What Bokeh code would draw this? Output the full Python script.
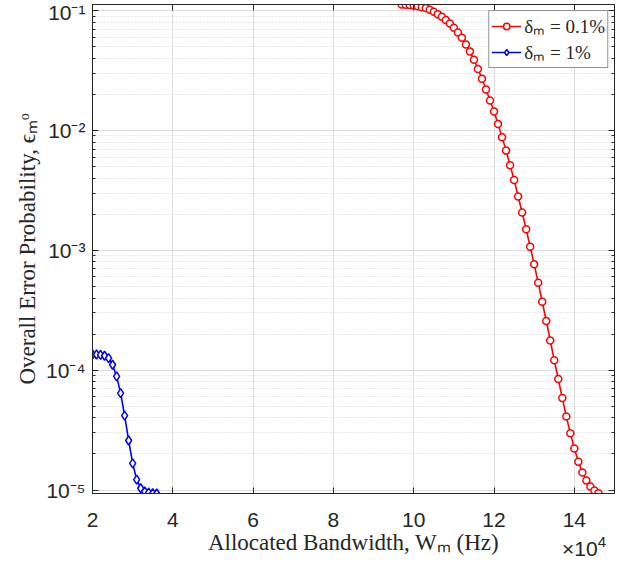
from bokeh.plotting import figure
from bokeh.layouts import column
from bokeh.models import (LogAxis, LinearAxis, FixedTicker, CustomJSTickFormatter,
                          CustomLabelingPolicy, Div, Legend, LegendItem, Range1d)
from bokeh.embed import file_html
from bokeh.resources import INLINE

# Allocated bandwidth in units of 10^4 Hz
red_bw = [9.7, 9.8, 9.9, 10.0, 10.1, 10.2, 10.3, 10.4, 10.5, 10.6,
          10.7, 10.8, 10.9, 11.0, 11.1, 11.2, 11.3, 11.4, 11.5, 11.6,
          11.7, 11.8, 11.9, 12.0, 12.1, 12.2, 12.3, 12.4, 12.5, 12.6,
          12.7, 12.8, 12.9, 13.0, 13.1, 13.2, 13.3, 13.4, 13.5, 13.6,
          13.7, 13.8, 13.9, 14.0, 14.1, 14.2, 14.3, 14.4, 14.5, 14.6]
red_err = [0.1125, 0.1119, 0.1112, 0.1104, 0.1090, 0.1069, 0.1050, 0.1016, 0.0977, 0.0935,
           0.0889, 0.0834, 0.0782, 0.0719, 0.0658, 0.0594, 0.0522, 0.0457, 0.0389, 0.0326,
           0.0270, 0.0220, 0.0178, 0.0144, 0.0113, 0.00877, 0.00679, 0.00513, 0.00387, 0.00281,
           0.00207, 0.00150, 0.00107, 7.64e-4, 5.37e-4, 3.72e-4, 2.57e-4, 1.77e-4, 1.21e-4, 8.43e-5,
           5.85e-5, 4.10e-5, 2.98e-5, 2.22e-5, 1.72e-5, 1.40e-5, 1.20e-5, 1.07e-5, 9.9e-6, 9.4e-6]

blue_bw = [2.0, 2.1, 2.2, 2.3, 2.4, 2.5, 2.6, 2.7, 2.8, 2.9, 3.0, 3.1, 3.2, 3.3, 3.4, 3.5, 3.6]
blue_err = [1.35e-4, 1.35e-4, 1.34e-4, 1.32e-4, 1.26e-4, 1.11e-4, 8.87e-5, 6.44e-5, 4.18e-5,
            2.59e-5, 1.67e-5, 1.22e-5, 1.035e-5, 9.72e-6, 9.5e-6, 9.4e-6, 9.35e-6]

x_ticks = [2, 4, 6, 8, 10, 12, 14]
y_ticks = [1e-5, 1e-4, 1e-3, 1e-2, 1e-1]
y_minor = [m * d for d in [1e-6, 1e-5, 1e-4, 1e-3, 1e-2, 1e-1] for m in range(2, 10)]

label_red = "\u03b4\u2098 = 0.1%"
label_blue = "\u03b4\u2098 = 1%"

AX = "#262626"
SERIF = "Liberation Serif"
SANS = "Liberation Sans"

x_multiplier = ('<span style="font-family:\'Liberation Sans\';font-size:21px;color:#262626;'
                'white-space:nowrap;line-height:26px">\u00d710<sup style="font-size:15px;'
                'vertical-align:9px;line-height:0">4</sup></span>')

W, H = 628, 563
p = figure(width=W, height=H, x_range=Range1d(2, 15), y_range=Range1d(9.35e-6, 0.1125),
           y_axis_type="log", output_backend="svg", toolbar_location=None,
           min_border_left=92, min_border_right=14, min_border_top=2, min_border_bottom=70)
p.outline_line_color = AX
p.outline_line_width = 1

xticker = FixedTicker(ticks=x_ticks)
yticker = FixedTicker(ticks=y_ticks, minor_ticks=y_minor)
yfmt = CustomJSTickFormatter(code="""
const sup = {'-':'\u207b','0':'\u2070','1':'\u00b9','2':'\u00b2','3':'\u00b3','4':'\u2074','5':'\u2075','6':'\u2076','7':'\u2077','8':'\u2078','9':'\u2079'};
const e = Math.round(Math.log10(tick));
return '10' + String(e).split('').map(c => sup[c]).join('');
""")

for ax in p.xaxis:
    ax.ticker = xticker
for ax in p.yaxis:
    ax.ticker = yticker
    ax.formatter = yfmt

for ax in list(p.xaxis) + list(p.yaxis):
    ax.major_tick_in = 6
    ax.major_tick_out = 0
    ax.minor_tick_in = 3
    ax.minor_tick_out = 0
    ax.axis_line_color = AX
    ax.major_tick_line_color = AX
    ax.minor_tick_line_color = AX
    ax.major_label_text_color = AX
    ax.major_label_text_font = SANS
    ax.major_label_text_font_size = "21px"
    ax.axis_label_text_font = SERIF
    ax.axis_label_text_font_style = "normal"
    ax.axis_label_text_font_size = "23px"
    ax.axis_label_text_color = AX

p.xaxis.axis_label = "Allocated Bandwidth, W\u2098 (Hz)"
p.yaxis.axis_label = "Overall Error Probability, \u03f5\u2098\u1d52"
p.xaxis.major_label_standoff = 19
p.xaxis.axis_label_standoff = 0
p.yaxis.major_label_standoff = 7
p.yaxis.axis_label_standoff = 3

hide_labels = CustomLabelingPolicy(code="""
if (indices != null && typeof indices.unset === 'function') {
  const n = indices.size;
  for (let i = 0; i < n; i++) { indices.unset(i); }
}
return indices;
""")

right = LogAxis(ticker=yticker, major_tick_in=6, major_tick_out=0,
                minor_tick_in=3, minor_tick_out=0, axis_line_color=AX, major_tick_line_color=AX,
                minor_tick_line_color=AX, major_label_standoff=0, major_label_policy=hide_labels)
right.major_label_text_font_size = "1px"
p.add_layout(right, "right")
top = LinearAxis(ticker=xticker, major_tick_in=6, major_tick_out=0,
                 minor_tick_in=0, minor_tick_out=0, axis_line_color=AX, major_tick_line_color=AX,
                 major_label_standoff=0, major_label_policy=hide_labels)
top.major_label_text_font_size = "1px"
p.add_layout(top, "above")

p.xgrid.grid_line_color = "#dedede"
p.ygrid.grid_line_color = "#dedede"
p.ygrid.minor_grid_line_color = "#d4d4d4"
p.ygrid.minor_grid_line_dash = "1 2"

rl = p.line(red_bw, red_err, line_color="#ff0000", line_width=1.6)
rs = p.scatter(red_bw, red_err, marker="circle", size=7, line_color="#ff0000", fill_color="white",
               line_width=1.5)
bl = p.line(blue_bw, blue_err, line_color="#0000ff", line_width=1.6)
bs = p.scatter(blue_bw, blue_err, marker="diamond", size=9, line_color="#0000ff", fill_color="white",
               line_width=1.5)

legend = Legend(items=[LegendItem(label=label_red, renderers=[rl, rs]),
                       LegendItem(label=label_blue, renderers=[bl, bs])],
                location="top_right", label_text_font=SERIF, label_text_font_size="19px",
                label_text_color=AX, glyph_width=30, glyph_height=16, label_height=16,
                label_standoff=3, padding=2, spacing=0, margin=6, border_line_color=AX,
                border_line_width=1, background_fill_alpha=1)
p.add_layout(legend, "center")

mult = Div(text=x_multiplier, width=62, height=27, margin=(-27, 0, 0, 562),
           styles={"overflow": "visible"})

open("out.html", "w").write(file_html(column(p, mult, spacing=0), INLINE))
